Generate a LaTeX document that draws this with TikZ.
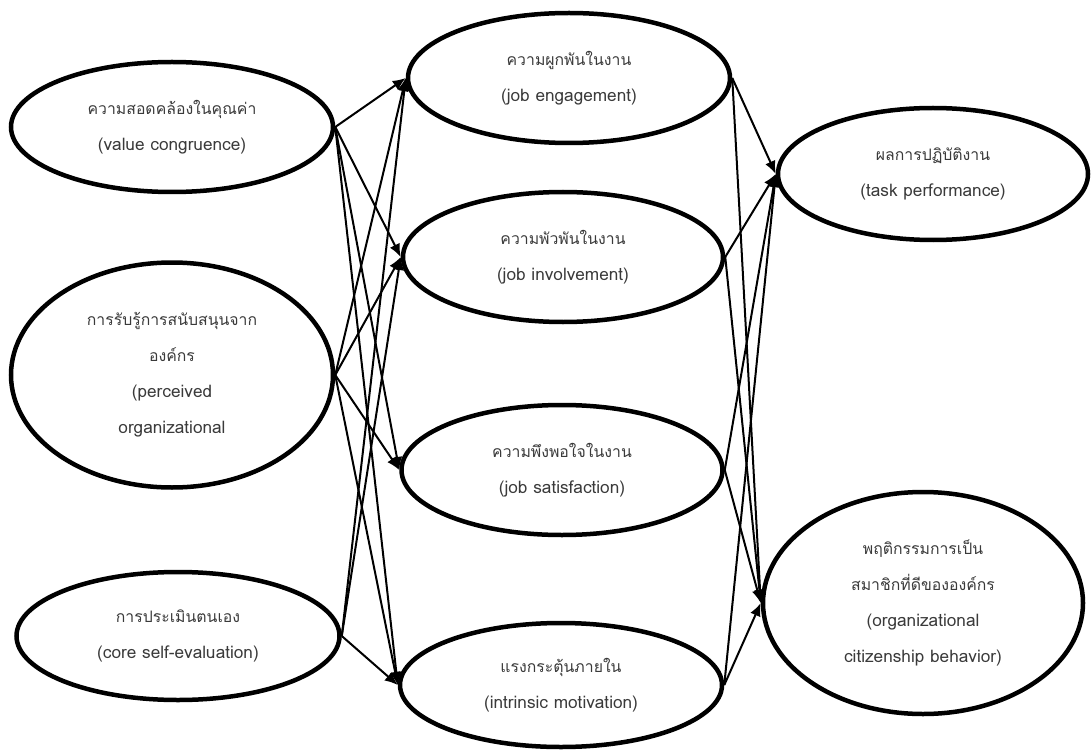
\documentclass[tikz,border=0pt]{standalone}
\usepackage{fontspec}
\setmainfont[Script=Thai]{Loma}
\usetikzlibrary{shapes.geometric,arrows.meta}
\definecolor{txt}{HTML}{3A3A3A}
\newcommand\latn[1]{{\fontsize{17.2}{36}\selectfont #1}}
\begin{document}
\begin{tikzpicture}[x=1pt,y=-1pt,
  var/.style={ellipse,draw=black,line width=4.5pt,inner sep=0pt,align=center,text=txt,
    font=\fontsize{15.8}{36}\selectfont},
  conn/.style={line width=2pt,-{Latex[length=13pt,width=11pt]}}]
\useasboundingbox (0,0) rectangle (1091,751);
% left column
\node[var,minimum width=322pt,minimum height=130pt] (vc) at (172,127) {ความสอดคล้องในคุณค่า\\\latn{(value congruence)}};
\node[var,minimum width=322pt,minimum height=225pt] (pos) at (172,375) {การรับรู้การสนับสนุนจาก\\องค์กร\\\latn{(perceived}\\\latn{organizational}};
\node[var,minimum width=323pt,minimum height=128pt] (cse) at (178,636) {การประเมินตนเอง\\\latn{(core self-evaluation)}};
% middle column
\node[var,minimum width=322pt,minimum height=130pt] (je) at (569,78) {ความผูกพันในงาน\\\latn{(job engagement)}};
\node[var,minimum width=320pt,minimum height=130pt] (ji) at (563,257) {ความพัวพันในงาน\\\latn{(job involvement)}};
\node[var,minimum width=321pt,minimum height=130pt] (js) at (562,470) {ความพึงพอใจในงาน\\\latn{(job satisfaction)}};
\node[var,minimum width=322pt,minimum height=124pt] (im) at (561,685) {แรงกระตุ้นภายใน\\\latn{(intrinsic motivation)}};
% right column
\node[var,minimum width=310pt,minimum height=132pt] (tp) at (933,174) {ผลการปฏิบัติงาน\\\latn{(task performance)}};
\node[var,minimum width=320pt,minimum height=222pt] (ocb) at (923,603) {พฤติกรรมการเป็น\\สมาชิกที่ดีขององค์กร\\\latn{(organizational}\\\latn{citizenship behavior)}};
% connectors left -> middle
\foreach \t in {je,ji,js,im} \draw[conn] (vc.east) -- (\t.west);
\foreach \t in {je,ji,js,im} \draw[conn] (pos.east) -- (\t.west);
\foreach \t in {je,ji,im} \draw[conn] (cse.east) -- (\t.west);
% connectors middle -> right
\foreach \s in {je,ji,js,im} {
  \draw[conn] (\s.east) -- (tp.west);
  \draw[conn] (\s.east) -- (ocb.west);
}
\end{tikzpicture}
\end{document}
